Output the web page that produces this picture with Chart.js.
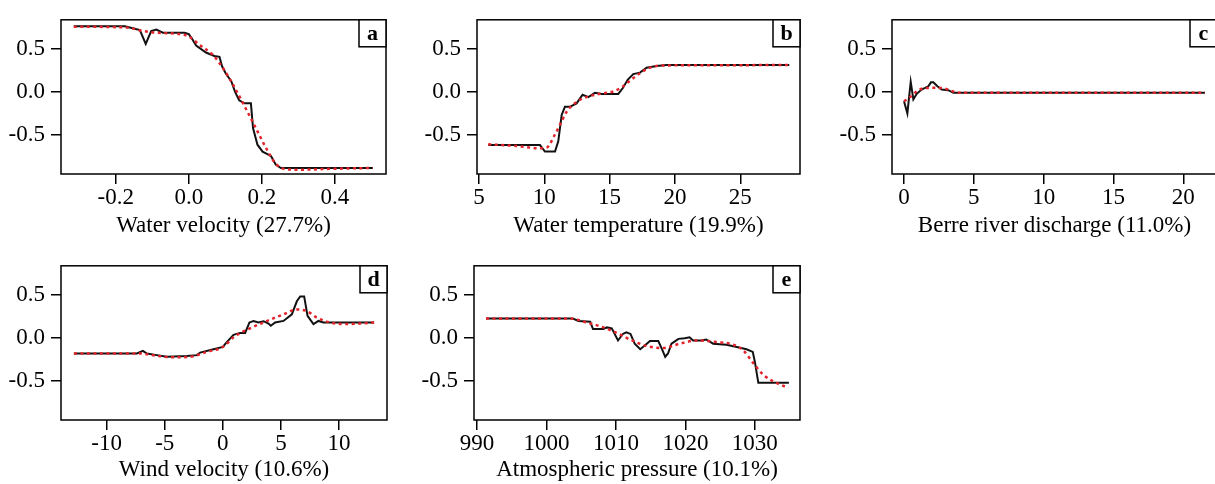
<!DOCTYPE html>
<html>
<head>
<meta charset="utf-8">
<script src="https://cdn.jsdelivr.net/npm/chart.js@4.4.1/dist/chart.umd.min.js"></script>
<style>
  html, body { margin: 0; padding: 0; background: #fff; overflow: hidden; }
  body { width: 1215px; height: 484px; position: relative; }
  canvas { position: absolute; }
</style>
</head>
<body>
<canvas id="chartA" width="400" height="240" style="left:0;top:0"></canvas>
<canvas id="chartB" width="400" height="240" style="left:416px;top:0"></canvas>
<canvas id="chartC" width="400" height="240" style="left:831px;top:0"></canvas>
<canvas id="chartD" width="400" height="238" style="left:0;top:246px"></canvas>
<canvas id="chartE" width="400" height="238" style="left:413px;top:246px"></canvas>
<script>
// partial dependence values (black = raw, red = smoothed)
const yTicks = [-0.5, 0, 0.5];

// a - water velocity
const velTicks = [-0.2, 0, 0.2, 0.4];
const velX = [-0.315, -0.175, -0.134, -0.118, -0.103, -0.089, -0.071, -0.012, 0.0, 0.011, 0.02, 0.047, 0.07, 0.084, 0.091, 0.102, 0.116, 0.127, 0.138, 0.152, 0.17, 0.176, 0.188, 0.202, 0.225, 0.238, 0.252, 0.504];
const velY = [0.765, 0.765, 0.72, 0.56, 0.71, 0.727, 0.69, 0.69, 0.674, 0.606, 0.54, 0.46, 0.42, 0.41, 0.30, 0.21, 0.13, 0.0, -0.095, -0.13, -0.13, -0.42, -0.61, -0.69, -0.74, -0.84, -0.88, -0.88];
const velSmoothX = [-0.315, -0.17, -0.125, -0.089, -0.025, 0.001, 0.029, 0.065, 0.093, 0.12, 0.156, 0.184, 0.211, 0.238, 0.265, 0.3, 0.39, 0.504];
const velSmoothY = [0.76, 0.75, 0.71, 0.69, 0.674, 0.644, 0.55, 0.435, 0.284, 0.095, -0.19, -0.42, -0.644, -0.83, -0.894, -0.90, -0.89, -0.88];

// b - water temperature
const tempTicks = [5, 10, 15, 20, 25];
const tempX = [5.71, 9.67, 10.05, 10.82, 11.07, 11.33, 11.58, 11.96, 12.47, 12.93, 13.37, 13.88, 14.39, 15.66, 16.0, 16.38, 16.81, 17.32, 17.83, 18.6, 19.36, 28.75];
const tempY = [-0.614, -0.614, -0.69, -0.69, -0.57, -0.265, -0.17, -0.17, -0.13, -0.03, -0.057, -0.008, -0.02, -0.02, 0.045, 0.144, 0.21, 0.227, 0.284, 0.303, 0.314, 0.314];
const tempSmoothX = [5.71, 7.88, 9.67, 10.18, 10.82, 11.2, 11.71, 12.47, 13.24, 14.26, 15.28, 15.92, 16.56, 17.32, 18.09, 19.1, 28.75];
const tempSmoothY = [-0.606, -0.625, -0.652, -0.644, -0.49, -0.38, -0.227, -0.114, -0.057, -0.019, 0.008, 0.057, 0.133, 0.22, 0.284, 0.31, 0.314];

// c - Berre river discharge
const dischTicks = [0, 5, 10, 15, 20];
const dischX = [0, 0.24, 0.48, 0.67, 0.91, 1.26, 1.74, 1.93, 2.1, 2.39, 2.7, 3.17, 3.53, 21.55];
const dischY = [-0.106, -0.246, 0.121, -0.083, -0.019, 0.03, 0.068, 0.114, 0.114, 0.068, 0.03, 0.023, -0.008, -0.008];
const dischSmoothX = [0, 0.43, 0.91, 1.38, 2.1, 2.82, 3.53, 4.0, 21.55];
const dischSmoothY = [-0.106, -0.057, 0.008, 0.045, 0.05, 0.045, 0.008, -0.008, -0.008];

// d - wind velocity
const windTicks = [-10, -5, 0, 5, 10];
const windX = [-12.82, -7.4, -6.88, -6.54, -5.68, -4.82, -3.1, -2.24, -1.95, -0.8, 0, 0.34, 0.92, 1.49, 1.92, 2.29, 2.64, 3.07, 3.5, 3.93, 4.13, 4.5, 5.22, 5.94, 6.37, 6.66, 7.0, 7.29, 7.8, 8.23, 8.66, 13.02];
const windY = [-0.178, -0.178, -0.148, -0.178, -0.197, -0.216, -0.208, -0.197, -0.167, -0.129, -0.102, -0.045, 0.038, 0.061, 0.061, 0.182, 0.2, 0.182, 0.197, 0.17, 0.144, 0.182, 0.2, 0.277, 0.428, 0.485, 0.485, 0.258, 0.163, 0.2, 0.182, 0.182];
const windSmoothX = [-12.82, -7.11, -5.68, -4.25, -2.81, -1.38, 0, 0.92, 2.07, 3.5, 5.22, 6.37, 7.23, 8.09, 9.24, 10.67, 11.82, 13.02];
const windSmoothY = [-0.178, -0.178, -0.205, -0.223, -0.216, -0.159, -0.102, 0.011, 0.098, 0.182, 0.277, 0.333, 0.314, 0.239, 0.182, 0.163, 0.17, 0.182];

// e - atmospheric pressure
const presTicks = [990, 1000, 1010, 1020, 1030];
const presX = [991.3, 1003.8, 1004.6, 1006.3, 1006.7, 1008.2, 1008.7, 1009.4, 1010.3, 1011.0, 1011.5, 1012.1, 1012.7, 1013.5, 1014.2, 1014.9, 1016.1, 1016.6, 1017.1, 1017.5, 1018.0, 1019.0, 1019.9, 1020.6, 1021.1, 1022.3, 1023.0, 1024.0, 1025.9, 1027.4, 1028.8, 1029.7, 1030.0, 1030.5, 1034.9];
const presY = [0.227, 0.227, 0.2, 0.19, 0.106, 0.106, 0.125, 0.114, -0.027, 0.049, 0.068, 0.049, -0.064, -0.129, -0.083, -0.034, -0.034, -0.121, -0.216, -0.178, -0.064, -0.008, 0.0, 0.011, -0.027, -0.027, -0.015, -0.064, -0.076, -0.102, -0.129, -0.159, -0.273, -0.519, -0.519];
const presSmoothX = [991.3, 1003.4, 1005.8, 1008.2, 1010.1, 1012.0, 1014.4, 1016.8, 1019.2, 1021.6, 1024.5, 1026.9, 1028.3, 1029.8, 1031.2, 1033.1, 1034.8];
const presSmoothY = [0.227, 0.227, 0.182, 0.125, 0.061, -0.015, -0.091, -0.114, -0.064, -0.027, -0.045, -0.076, -0.14, -0.292, -0.424, -0.519, -0.576];

const SERIF = '"Liberation Serif", "DejaVu Serif", serif';
Chart.defaults.font.family = SERIF;
Chart.defaults.color = '#000';

const toPoints = (xs, ys) => xs.map((x, i) => ({ x: x, y: ys[i] }));

// box around the plot region plus the letter tag in the top right corner
const frameBox = {
    id: 'frameBox',
    afterDatasetsDraw(chart, args, opts) {
        const { ctx, chartArea: a } = chart;
        const s = 27;
        ctx.save();
        ctx.strokeStyle = '#000';
        ctx.lineWidth = 1.5;
        ctx.strokeRect(a.left, a.top, a.right - a.left, a.bottom - a.top);
        ctx.fillStyle = '#fff';
        ctx.fillRect(a.right - s, a.top, s, s);
        ctx.strokeRect(a.right - s, a.top, s, s);
        ctx.fillStyle = '#000';
        ctx.font = 'bold 22px ' + SERIF;
        ctx.textAlign = 'center';
        ctx.textBaseline = 'middle';
        ctx.fillText(opts.letter, a.right - s / 2, a.top + s / 2 + 1);
        ctx.restore();
    }
};

function makePanel(id, p) {
    const tickGrid = {
        display: true,
        drawOnChartArea: false,
        drawTicks: true,
        tickLength: 10,
        color: '#000',
        lineWidth: 1.5
    };
    new Chart(document.getElementById(id), {
        type: 'line',
        data: {
            datasets: [{
                data: toPoints(p.smoothX, p.smoothY),
                borderColor: '#e3232b',
                borderWidth: 2.5,
                borderDash: [3, 3.5],
                cubicInterpolationMode: 'monotone',
                pointRadius: 0
            }, {
                data: toPoints(p.x, p.y),
                borderColor: '#111',
                borderWidth: 2,
                tension: 0,
                pointRadius: 0
            }]
        },
        options: {
            responsive: false,
            animation: false,
            layout: { padding: { top: 16, right: p.padRight, left: 0, bottom: 0 } },
            plugins: {
                legend: { display: false },
                tooltip: { enabled: false },
                frameBox: { letter: p.letter }
            },
            scales: {
                x: {
                    type: 'linear',
                    min: p.xMin,
                    max: p.xMax,
                    grid: tickGrid,
                    border: { display: false },
                    afterBuildTicks: s => { s.ticks = p.ticks.map(v => ({ value: v })); },
                    afterFit: s => { s.height = p.xHeight; },
                    ticks: {
                        padding: 0,
                        maxRotation: 0,
                        font: { size: 23 },
                        callback: v => p.decimals ? v.toFixed(p.decimals) : String(v)
                    },
                    title: {
                        display: true,
                        text: p.title,
                        font: { size: 23 },
                        padding: { top: 0, bottom: 0 }
                    }
                },
                y: {
                    min: -0.95,
                    max: 0.84,
                    grid: tickGrid,
                    border: { display: false },
                    afterBuildTicks: s => { s.ticks = yTicks.map(v => ({ value: v })); },
                    afterFit: s => { s.width = 61; },
                    ticks: {
                        padding: 6,
                        font: { size: 23 },
                        callback: v => v.toFixed(1)
                    }
                }
            }
        },
        plugins: [frameBox]
    });
}

makePanel('chartA', {
    letter: 'a', title: 'Water velocity (27.7%)',
    x: velX, y: velY, smoothX: velSmoothX, smoothY: velSmoothY,
    ticks: velTicks, decimals: 1, xMin: -0.35, xMax: 0.54, padRight: 14, xHeight: 66
});
makePanel('chartB', {
    letter: 'b', title: 'Water temperature (19.9%)',
    x: tempX, y: tempY, smoothX: tempSmoothX, smoothY: tempSmoothY,
    ticks: tempTicks, decimals: 0, xMin: 4.85, xMax: 29.57, padRight: 16, xHeight: 66
});
makePanel('chartC', {
    letter: 'c', title: 'Berre river discharge (11.0%)',
    x: dischX, y: dischY, smoothX: dischSmoothX, smoothY: dischSmoothY,
    ticks: dischTicks, decimals: 0, xMin: -0.86, xMax: 22.41, padRight: 14, xHeight: 66
});
makePanel('chartD', {
    letter: 'd', title: 'Wind velocity (10.6%)',
    x: windX, y: windY, smoothX: windSmoothX, smoothY: windSmoothY,
    ticks: windTicks, decimals: 0, xMin: -13.93, xMax: 14.13, padRight: 13, xHeight: 64
});
makePanel('chartE', {
    letter: 'e', title: 'Atmospheric pressure (10.1%)',
    x: presX, y: presY, smoothX: presSmoothX, smoothY: presSmoothY,
    ticks: presTicks, decimals: 0, xMin: 989.57, xMax: 1036.5, padRight: 13, xHeight: 64
});
</script>
</body>
</html>
